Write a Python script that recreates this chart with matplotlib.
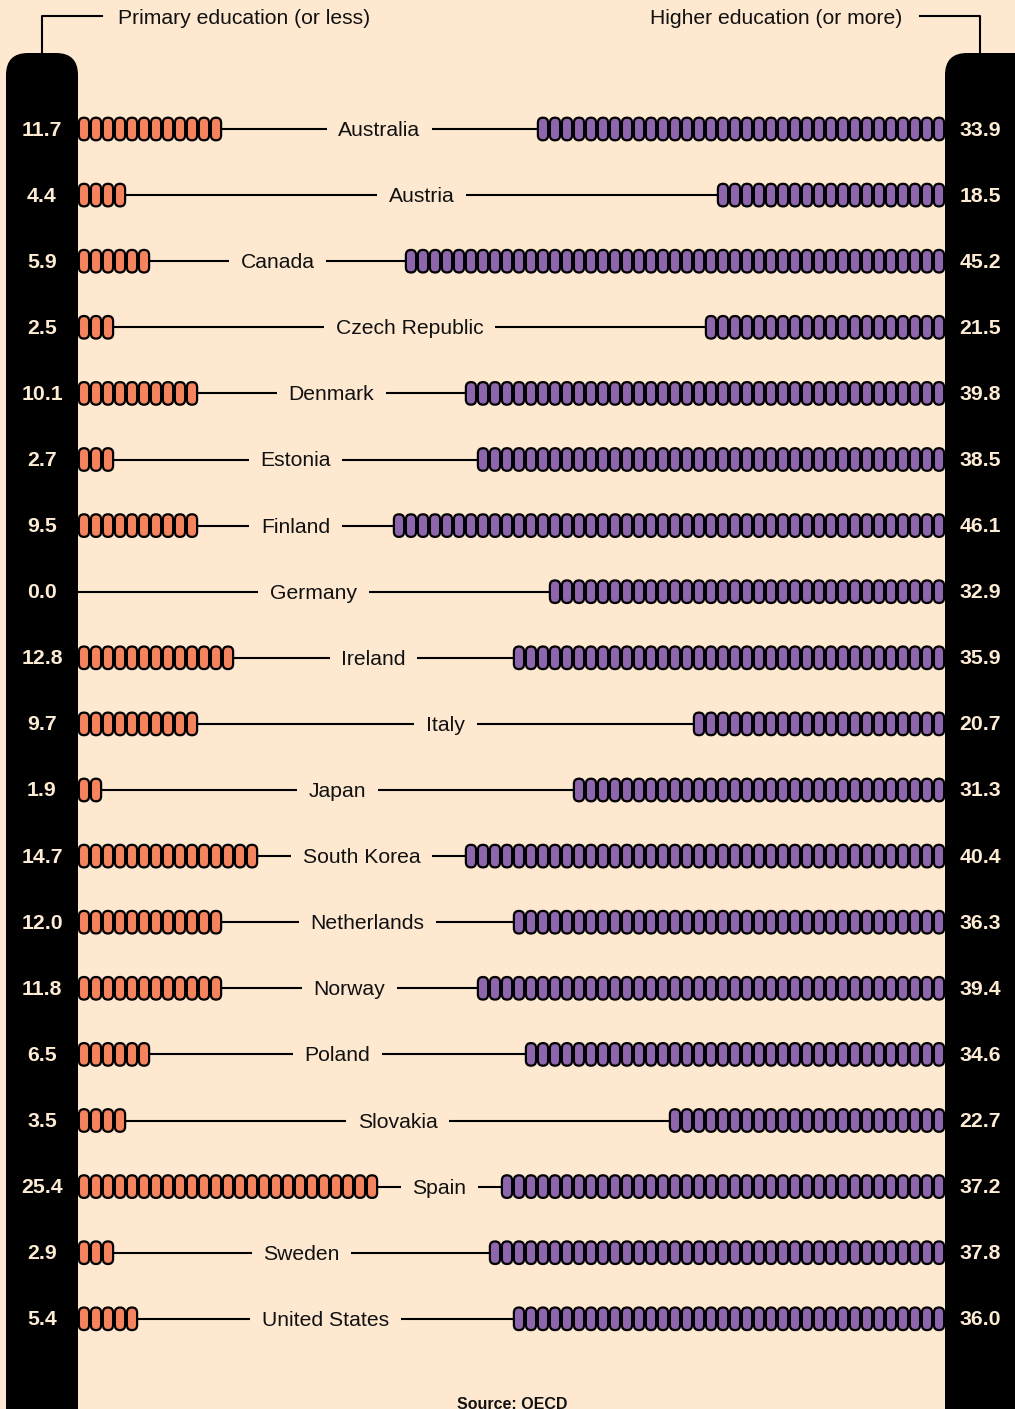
import matplotlib.pyplot as plt
from matplotlib.patches import FancyBboxPatch

countries = ['Australia', 'Austria', 'Canada', 'Czech Republic', 'Denmark', 'Estonia',
             'Finland', 'Germany', 'Ireland', 'Italy', 'Japan', 'South Korea',
             'Netherlands', 'Norway', 'Poland', 'Slovakia', 'Spain', 'Sweden',
             'United States']
primary = [11.7, 4.4, 5.9, 2.5, 10.1, 2.7, 9.5, 0.0, 12.8, 9.7, 1.9, 14.7,
           12.0, 11.8, 6.5, 3.5, 25.4, 2.9, 5.4]
higher = [33.9, 18.5, 45.2, 21.5, 39.8, 38.5, 46.1, 32.9, 35.9, 20.7, 31.3, 40.4,
          36.3, 39.4, 34.6, 22.7, 37.2, 37.8, 36.0]
# pill counts as drawn in the original (one pill ~ one percent)
primary_pills = [12, 4, 6, 3, 10, 3, 10, 0, 13, 10, 2, 15, 12, 12, 6, 4, 25, 3, 5]
higher_pills = [34, 19, 45, 20, 40, 39, 46, 33, 36, 21, 31, 40, 36, 39, 35, 23, 37, 38, 36]

BG = '#FEE8D0'
ORANGE = '#F5845E'
PURPLE = '#8E66AE'
CREAM = '#FDEBD3'
FONT = ['Liberation Sans', 'DejaVu Sans']

W, H = 1015, 1409
LEFT_X, RIGHT_X = 78, 945
PILL = 12
ROW0, STEP = 129, 66.1


def pill(ax, x, y, color):
    ax.add_patch(FancyBboxPatch((x + 0.9, y - 11.3), PILL - 1.8, 22.6,
                                boxstyle='round,pad=0,rounding_size=5.1',
                                facecolor=color, edgecolor='black', lw=1.6, zorder=3))


def main():
    fig = plt.figure(figsize=(W / 100, H / 100), dpi=100, facecolor=BG)
    ax = fig.add_axes([0, 0, 1, 1])
    ax.set_xlim(0, W)
    ax.set_ylim(H, 0)
    ax.set_facecolor(BG)
    ax.axis('off')

    # black pillars
    for x0 in (6, RIGHT_X):
        ax.add_patch(FancyBboxPatch((x0, 53), 72 if x0 == 6 else 100, 1500,
                                    boxstyle='round,pad=0,rounding_size=22',
                                    facecolor='black', edgecolor='none', zorder=1))

    # header labels
    ax.plot([42, 42, 102], [53, 16, 16], color='black', lw=1.5, zorder=0)
    ax.text(118, 18, 'Primary education (or less)', fontsize=15.2, family=FONT,
            ha='left', va='center', color='#111111')
    ax.plot([980, 980, 920], [53, 16, 16], color='black', lw=1.5, zorder=0)
    ax.text(902, 18, 'Higher education (or more)', fontsize=15.2, family=FONT,
            ha='right', va='center', color='#111111')

    for i, name in enumerate(countries):
        y = ROW0 + i * STEP
        n1, n2 = primary_pills[i], higher_pills[i]
        for k in range(n1):
            pill(ax, LEFT_X + k * PILL, y, ORANGE)
        for k in range(n2):
            pill(ax, RIGHT_X - (k + 1) * PILL, y, PURPLE)
        x_end = LEFT_X + n1 * PILL
        x_start = RIGHT_X - n2 * PILL
        ax.plot([x_end, x_start], [y, y], color='black', lw=1.5, zorder=2)
        ax.text((x_end + x_start) / 2, y + 1.5, name, fontsize=15.2, family=FONT,
                ha='center', va='center', color='#111111', zorder=4,
                bbox=dict(boxstyle='square,pad=0.55', facecolor=BG, edgecolor='none'))
        ax.text(42, y + 1, f'{primary[i]:.1f}', fontsize=15.3, family=FONT, weight='bold',
                ha='center', va='center', color=CREAM, zorder=4)
        ax.text(980, y + 1, f'{higher[i]:.1f}', fontsize=15.3, family=FONT, weight='bold',
                ha='center', va='center', color=CREAM, zorder=4)

    ax.text(512, 1397, 'Source: OECD', fontsize=11.5, family=FONT, weight='bold',
            ha='center', va='top', color='#111111')

    fig.savefig('out.png', dpi=100, facecolor=BG)


if __name__ == "__main__":
    main()
